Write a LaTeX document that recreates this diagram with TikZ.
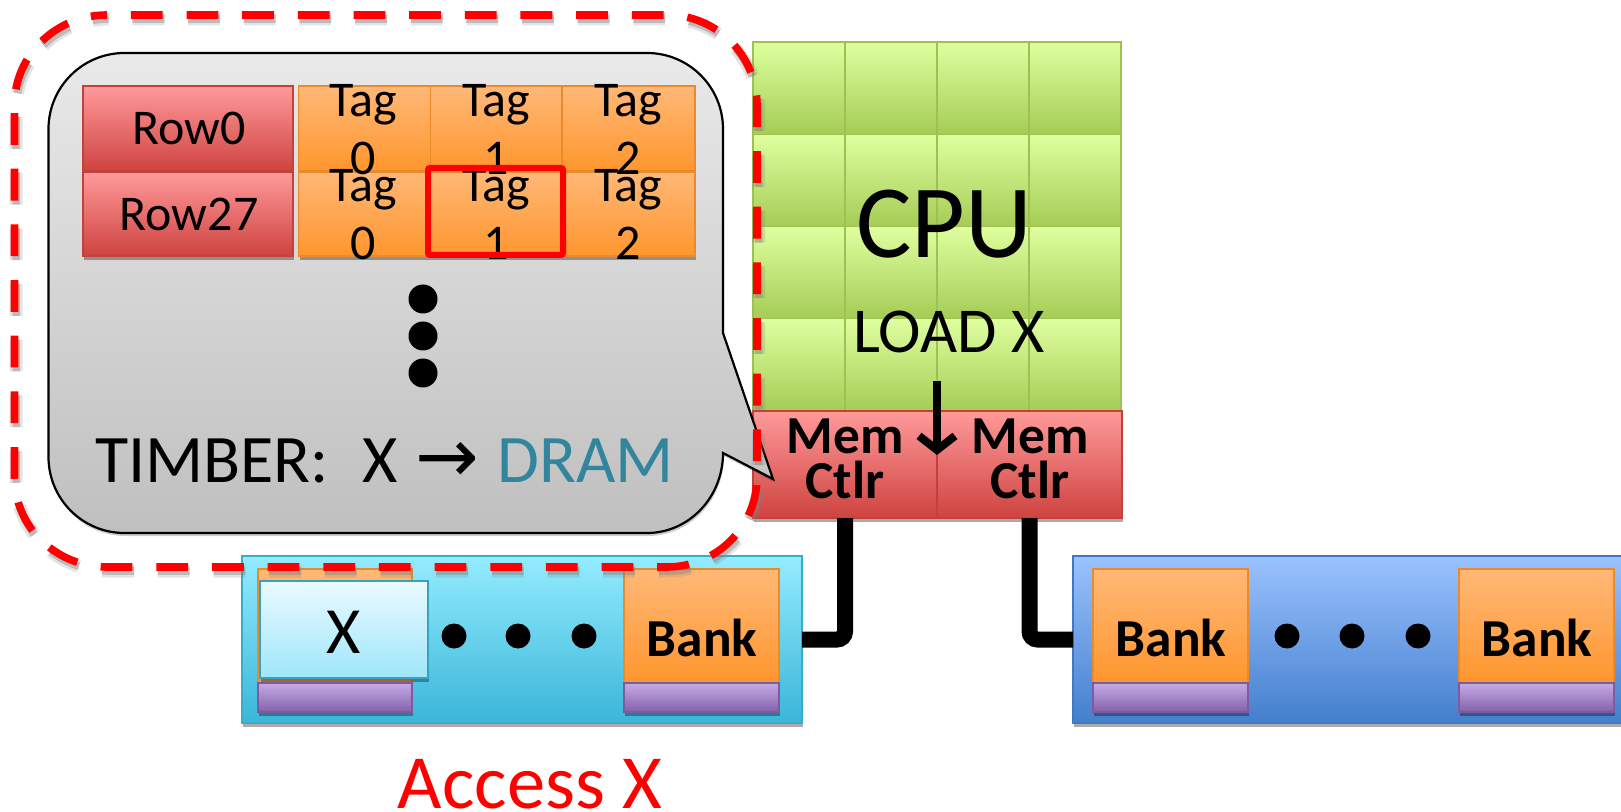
\documentclass[tikz,border=0pt]{standalone}
\usepackage{fontspec}
\setmainfont{Carlito}
\newfontfamily\dvfont{DejaVu Sans}
\usetikzlibrary{shadows,arrows.meta}
\definecolor{gOrT}{HTML}{FFB877}\definecolor{gOrB}{HTML}{FF962E}
\definecolor{gRdT}{HTML}{FF9A9A}\definecolor{gRdB}{HTML}{CE4340}
\definecolor{gGrT}{HTML}{DFFF9F}\definecolor{gGrB}{HTML}{A5CC55}
\definecolor{gCyT}{HTML}{94ECFF}\definecolor{gCyB}{HTML}{3AB6D8}
\definecolor{gBlT}{HTML}{9BC2FF}\definecolor{gBlB}{HTML}{437FCD}
\definecolor{gPuT}{HTML}{C5ABE6}\definecolor{gPuB}{HTML}{8460A9}
\definecolor{gXT}{HTML}{EAFAFF}\definecolor{gXB}{HTML}{A0E6FB}
\definecolor{dramc}{HTML}{31859C}
\tikzset{
 x=0.5pt,y=-0.5pt,
 boxbase/.style={rectangle,inner sep=0pt,outer sep=0pt,line width=0.6pt,
   drop shadow={shadow xshift=0.7pt,shadow yshift=-2pt,fill=black,opacity=.33}},
 orangebox/.style={boxbase,top color=gOrT,bottom color=gOrB,draw=gOrB!92!black},
 redbox/.style={boxbase,top color=gRdT,bottom color=gRdB,draw=gRdB!95!black},
 greenbox/.style={rectangle,inner sep=0pt,outer sep=0pt,line width=0.6pt,top color=gGrT,bottom color=gGrB,draw=gGrB!95!black},
 cyanbox/.style={boxbase,top color=gCyT,bottom color=gCyB,draw=gCyB!95!black},
 bluebox/.style={boxbase,top color=gBlT,bottom color=gBlB,draw=gBlB!95!black},
 purplebox/.style={boxbase,top color=gPuT,bottom color=gPuB,draw=gPuB!95!black},
 xbox/.style={boxbase,top color=gXT,bottom color=gXB,draw=gCyB!90!black,line width=1pt},
 txt/.style={inner sep=0pt,outer sep=0pt,anchor=base,align=center},
 dot/.style={circle,fill=black,inner sep=0pt,outer sep=0pt},
 wire/.style={line width=8pt,rounded corners=4pt},
 redash/.style={dash pattern=on 15.9pt off 11.93pt,dash phase=15.9pt},
}
\newcommand\bx[6]{\node[#6,minimum width={((#4)-(#2))*0.5pt},minimum height={((#5)-(#3))*0.5pt}] (#1) at ({((#2)+(#4))/2},{((#3)+(#5))/2}) {};}
\newcommand\tg[4]{\node[txt,font=\fontsize{25}{27}\selectfont] (#1a) at (#2,#3) {Tag};\node[txt,font=\fontsize{25}{27}\selectfont] (#1b) at (#2,#3+58) {#4};}
\begin{document}
\begin{tikzpicture}
\useasboundingbox (0,0) rectangle (1621,812);
\begin{scope}
\clip (0,0) rectangle (1621,812);
% CPU grid
\foreach \i in {0,1,2,3}{\foreach \j in {0,1,2,3}{
  \pgfmathsetmacro\xa{753+92*\i}\pgfmathsetmacro\ya{42+92.25*\j}
  \bx{c\i\j}{\xa}{\ya}{\xa+92}{\ya+92.25}{greenbox}}}
\bx{mca}{753}{411}{937}{518}{redbox}
\bx{mcb}{937}{411}{1122}{518}{redbox}
% DIMMs
\bx{dimma}{242}{556}{802}{723}{cyanbox}
\bx{dimmb}{1073}{556}{1640}{723}{bluebox}
% wires
\draw[wire] (mca.south) |- (dimma.east);
\draw[wire] (mcb.south) |- (dimmb.west);
% banks
\bx{ba}{258}{569}{412}{683}{orangebox}
\bx{bb}{624}{569}{779}{683}{orangebox}
\bx{bc}{1093}{569}{1248}{683}{orangebox}
\bx{bd}{1459}{569}{1614}{683}{orangebox}
\bx{pa}{258}{683}{412}{712}{purplebox}
\bx{pb}{624}{683}{779}{712}{purplebox}
\bx{pc}{1093}{683}{1248}{712}{purplebox}
\bx{pd}{1459}{683}{1614}{712}{purplebox}
\bx{xb}{260}{581}{428}{678}{xbox}
\node[txt,font=\fontsize{33}{38}\selectfont] (xt) at (344,653) {X};
\foreach \n/\x/\y in {da/454/636,db/518/636,dc/584/636,dd/1287/636,de/1352/636,df/1418/636}
  \node[dot,minimum size=12.5pt] (\n) at (\x,\y) {};
\foreach \n/\x in {bbt/702,bct/1171,bdt/1537}
  \node[txt,font=\fontsize{26.7}{31}\selectfont\bfseries] (\n) at (\x,656) {Bank};
% CPU text
\node[txt,font=\fontsize{52}{60}\selectfont] (cput) at (944,258) {CPU};
\node[txt,font=\fontsize{32}{37}\selectfont] (load) at (949,353) {LOAD X};
\node[txt,font=\fontsize{26.7}{22.5}\selectfont\bfseries] (mt1) at (845,498) {Mem\\Ctlr};
\node[txt,font=\fontsize{26.7}{22.5}\selectfont\bfseries] (mt2) at (1030,498) {Mem\\Ctlr};
\coordinate (arS) at (937,381);
\coordinate (arE) at (937,455);
\draw[line width=4pt,-{Straight Barb[length=7pt,width=18pt,line width=4pt]}] (arS) -- (arE);
% callout
\def\callout{(124.5,53) -- (647,53) arc[start angle=-90,end angle=0,radius=76] -- (723,333) -- (773,479) -- (723,453)
   arc[start angle=0,end angle=90,x radius=76,y radius=80] -- (124.5,533) arc[start angle=90,end angle=180,radius=76] -- (48.5,129) arc[start angle=180,end angle=270,radius=76] -- cycle}
\path[draw=black,line width=1.1pt,top color=gray!17,bottom color=gray!50,
   drop shadow={shadow xshift=0.5pt,shadow yshift=-1.5pt,fill=black,opacity=.2}] \callout;
% rows
\bx{r0}{83}{86}{293}{171}{redbox}
\bx{r1}{83}{172}{293}{256}{redbox}
\foreach \n/\a/\b in {t0/298.5/430.5,t1/430.5/562,t2/562/695}{
 \bx{\n a}{\a}{86}{\b}{171}{orangebox}
 \bx{\n b}{\a}{172}{\b}{256}{orangebox}}
\node[txt,font=\fontsize{25}{27}\selectfont] (r0t) at (189,145) {Row0};
\node[txt,font=\fontsize{25}{27}\selectfont] (r1t) at (189,231) {Row27};
\tg{ta}{363.5}{117}{0}\tg{tb}{496}{117}{1}\tg{tc}{628}{117}{2}
\tg{td}{363.5}{202}{0}\tg{te}{496}{202}{1}\tg{tf}{628}{202}{2}
\bx{hit}{428}{168}{563}{255}{rectangle,draw=red,line width=3pt,rounded corners=1pt}
\foreach \n/\y in {va/299,vb/336,vc/373}
  \node[dot,minimum size=14.5pt] (\n) at (423,\y) {};
\node[txt,anchor=base west,font=\fontsize{34}{40}\selectfont] (tim) at (95,482) {TIMBER:\hspace{0.5em}X\hspace{0.25em}{\dvfont\fontsize{38}{40}\selectfont →}\hspace{0.28em}\textcolor{dramc}{DRAM}};
% dashed outline
\def\dashedoutline{(107,15) -- (667,15) arc[start angle=-90,end angle=0,radius=90] -- (757,477) arc[start angle=0,end angle=90,radius=90] -- (107,567) arc[start angle=90,end angle=180,x radius=92.5,y radius=90] -- (14.5,105) arc[start angle=180,end angle=270,x radius=92.5,y radius=90] -- cycle}
\draw[gray,opacity=.22,line width=6.5pt,redash,xshift=0.8pt,yshift=-2pt] \dashedoutline;
\draw[gray,opacity=.4,line width=3.8pt,redash,xshift=0.8pt,yshift=-2pt] \dashedoutline;
\draw[red,line width=3.8pt,redash] \dashedoutline;
\node[txt,text=red,font=\fontsize{38.3}{46}\selectfont] (acc) at (530,808) {Access X};
\end{scope}
\end{tikzpicture}
\end{document}
